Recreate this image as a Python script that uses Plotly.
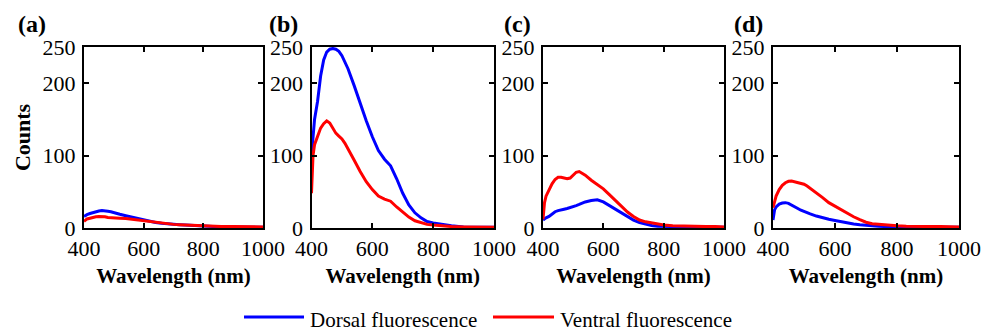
import plotly.graph_objects as go

W, H = 982, 330

wavelength = [400, 405, 410, 420, 430, 440, 450, 460, 470, 480, 490, 500, 510, 520,
              540, 560, 580, 600, 620, 640, 660, 680, 700, 720, 740, 760, 780, 800,
              830, 860, 900, 940, 970, 1000]

a_dorsal = [16, 17.5, 18.5, 20, 21.5, 22.5, 23.5, 24, 24, 23, 22.5, 21, 20, 19,
            17, 15, 12.5, 10.5, 9, 7.5, 6.5, 5.5, 5, 4.5, 4, 3.5, 3, 2.5,
            2, 1.5, 1.5, 1.5, 1, 1]
a_ventral = [9, 11, 12.5, 13.5, 15, 15.5, 16, 16, 15.5, 14.5, 14, 14, 13.5, 13.5,
             13, 12, 10.5, 9.5, 8.5, 7, 6, 5.5, 5, 4.5, 4, 3.5, 3, 2.5,
             2.5, 2, 2, 2, 2, 1.5]

b_dorsal = [100, 130, 150, 175, 210, 232, 243, 247, 248, 247, 244, 238, 230, 220,
            197, 172, 148, 126, 107, 95, 86, 68, 48, 32, 21, 14, 9, 7,
            5, 3, 1.5, 1, 1, 1]
b_ventral = [48, 100, 115, 128, 138, 144, 148, 145, 138, 131, 127, 123, 117, 110,
             94, 78, 64, 53, 44, 40, 37, 29, 22, 15, 10, 7, 5, 4,
             2.5, 2, 1.5, 1.5, 1, 1]

c_dorsal = [11, 13, 14, 16, 19, 22.5, 24, 25.5, 26, 27, 28, 29.5, 31, 32.5,
            36, 38, 39, 36, 31, 25.5, 20, 15, 11, 7.5, 5, 3.5, 2.5, 2,
            2, 2, 1.5, 1.5, 1.5, 1]
c_ventral = [12, 35, 44, 53, 61, 67, 70, 70, 69, 68, 69, 73, 77, 78,
             73, 66, 60, 54, 46, 38, 29, 22, 16, 11, 8.5, 7, 5.5, 4,
             3, 2.5, 2.5, 2, 2, 1.5]

d_dorsal = [11, 25, 29, 33, 34.5, 35, 34, 32, 29.5, 27, 24.5, 22.5, 21, 19.5,
            16.5, 14, 12, 10.5, 8.5, 7, 5.5, 4.5, 3.5, 3, 2.5, 2, 1.5, 1.5,
            1, 1, 1, 1, 1, 1]
d_ventral = [28, 38, 44, 53, 59, 62.5, 64.5, 65, 64, 63, 62, 60.5, 58, 55,
             48, 42, 35, 30, 24.5, 20, 15.5, 11.5, 8, 6, 5, 4.5, 3.5, 3,
             2.5, 2, 2, 2, 2, 1.5]

panels = [("(a)", a_dorsal, a_ventral), ("(b)", b_dorsal, b_ventral),
          ("(c)", c_dorsal, c_ventral), ("(d)", d_dorsal, d_ventral)]

x_ticks = [400, 600, 800, 1000]
y_ticks = [0, 100, 200, 250]

series_names = ["Dorsal fluorescence", "Ventral fluorescence"]
series_colors = ["#0000ff", "#ff0000"]

# pixel geometry
px_domains = [(84, 263), (311.5, 494), (543, 724), (773, 959)]
label_x = [16, 267, 502, 732]
top_px, bot_px = 47, 228

FONT = "Times New Roman, Times, Liberation Serif, DejaVu Serif, serif"

fig = go.Figure()
for i, (lab, dors, vent) in enumerate(panels):
    xa = "x" if i == 0 else f"x{i+1}"
    ya = "y" if i == 0 else f"y{i+1}"
    for vals, name, col in zip([dors, vent], series_names, series_colors):
        fig.add_trace(go.Scatter(x=wavelength, y=vals, mode="lines", name=name,
                                 line=dict(color=col, width=3), xaxis=xa, yaxis=ya,
                                 showlegend=False))
    axkw = dict(showline=True, linewidth=2, linecolor="black", mirror="ticks",
                ticks="inside", ticklen=5, tickwidth=1.5, tickcolor="black",
                showgrid=False, zeroline=False, automargin=False,
                tickfont=dict(family=FONT, size=22, color="black"))
    xkey = "xaxis" if i == 0 else f"xaxis{i+1}"
    ykey = "yaxis" if i == 0 else f"yaxis{i+1}"
    d0, d1 = px_domains[i]
    fig.update_layout(**{
        xkey: dict(domain=[d0 / W, d1 / W], range=[400, 1000], tickvals=x_ticks,
                   anchor=ya, ticklabelstandoff=0,
                   title=dict(text="<b>Wavelength (nm)</b>", standoff=8,
                              font=dict(family=FONT, size=21, color="black")),
                   **axkw),
        ykey: dict(domain=[1 - bot_px / H, 1 - top_px / H], range=[0, 250],
                   tickvals=y_ticks, anchor=xa, ticklabelstandoff=2,
                   title=dict(text="<b>Counts</b>" if i == 0 else "", standoff=6,
                              font=dict(family=FONT, size=22, color="black")),
                   **axkw),
    })
    fig.add_annotation(text=f"<b>{lab}</b>", xref="paper", yref="paper",
                       x=label_x[i] / W, y=1 - 24 / H, xanchor="left", yanchor="middle",
                       showarrow=False, font=dict(family=FONT, size=24, color="black"))

# legend (drawn manually to match the long line samples)
leg_y = 1 - 317 / H
leg_items = [(244, 304, 308), (493, 554, 558)]
for (x0, x1, xt), name, col in zip(leg_items, series_names, series_colors):
    fig.add_shape(type="line", xref="paper", yref="paper", x0=x0 / W, x1=x1 / W,
                  y0=leg_y, y1=leg_y, line=dict(color=col, width=3))
    fig.add_annotation(text=name, xref="paper", yref="paper", x=xt / W, y=1 - 320 / H,
                       xanchor="left", yanchor="middle", showarrow=False,
                       font=dict(family=FONT, size=21, color="black"))

fig.update_layout(width=W, height=H, margin=dict(l=0, r=0, t=0, b=0),
                  paper_bgcolor="white", plot_bgcolor="white", template="none",
                  showlegend=False, font=dict(family=FONT, color="black"))

fig.write_html("out.html")
